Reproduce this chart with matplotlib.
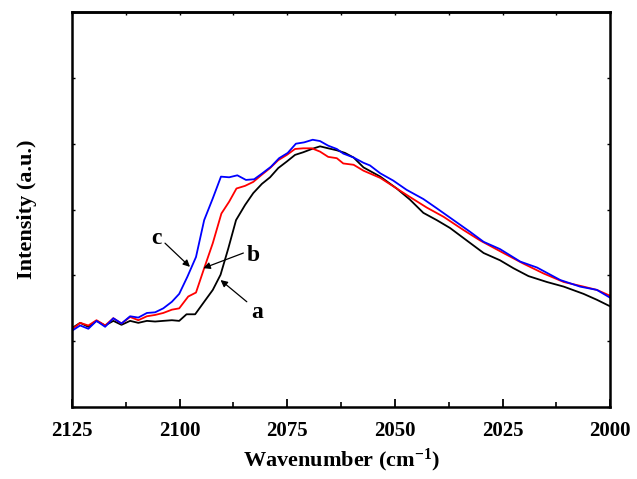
import numpy as np
import matplotlib.pyplot as plt

plt.rcParams['font.family'] = 'Liberation Serif'
plt.rcParams['font.weight'] = 'bold'
plt.rcParams['mathtext.fontset'] = 'custom'
plt.rcParams['mathtext.rm'] = 'Liberation Serif:bold'
plt.rcParams['mathtext.default'] = 'rm'

# sample a
wn_a = [2125, 2123.1, 2121.2, 2119.3, 2117.3, 2115.4, 2113.5, 2111.5, 2109.6, 2107.6,
        2105.7, 2103.8, 2101.8, 2100.1, 2098.4, 2096.4, 2094.3, 2092.3, 2090.5, 2088.7,
        2086.9, 2084.8, 2082.9, 2080.9, 2079.0, 2077.1, 2075.1, 2073.2, 2071.3, 2069.3,
        2067.4, 2065.5, 2063.5, 2061.6, 2059.6, 2057.3, 2053.4, 2049.6, 2046.5, 2043.4,
        2040.3, 2037.2, 2032.9, 2029.4, 2025.6, 2022.5, 2019.0, 2014.7, 2010.8, 2006.2,
        2003.1, 2000.0]
int_a = [1.20, 1.28, 1.22, 1.31, 1.24, 1.31, 1.25, 1.31, 1.28, 1.31,
         1.30, 1.31, 1.32, 1.31, 1.41, 1.41, 1.60, 1.78, 2.01, 2.41,
         2.84, 3.07, 3.25, 3.39, 3.49, 3.63, 3.73, 3.83, 3.87, 3.92,
         3.96, 3.93, 3.90, 3.86, 3.79, 3.64, 3.50, 3.32, 3.15, 2.95,
         2.84, 2.72, 2.51, 2.34, 2.23, 2.11, 1.99, 1.90, 1.83, 1.72,
         1.63, 1.53]

# sample b
wn_b = [2125, 2123.1, 2121.2, 2119.3, 2117.3, 2115.4, 2113.5, 2111.5, 2109.6, 2107.6,
        2105.7, 2103.8, 2101.8, 2100.1, 2098.0, 2096.2, 2094.3, 2092.3, 2090.3, 2088.5,
        2086.8, 2084.8, 2082.9, 2080.9, 2079.0, 2077.1, 2075.1, 2073.2, 2071.3, 2069.3,
        2067.4, 2065.5, 2063.5, 2062.0, 2059.6, 2057.3, 2053.4, 2049.6, 2046.5, 2042.6,
        2038.7, 2034.1, 2030.2, 2024.8, 2020.2, 2015.5, 2010.8, 2006.2, 2003.1, 2000.0]
int_b = [1.18, 1.28, 1.24, 1.32, 1.24, 1.35, 1.27, 1.37, 1.32, 1.38,
         1.40, 1.43, 1.48, 1.50, 1.68, 1.74, 2.11, 2.49, 2.94, 3.12,
         3.32, 3.36, 3.42, 3.53, 3.63, 3.75, 3.83, 3.92, 3.93, 3.93,
         3.88, 3.80, 3.78, 3.70, 3.68, 3.59, 3.48, 3.32, 3.19, 3.03,
         2.89, 2.69, 2.53, 2.34, 2.18, 2.03, 1.90, 1.83, 1.78, 1.69]

# sample c
wn_c = [2125, 2123.1, 2121.2, 2119.3, 2117.3, 2115.4, 2113.5, 2111.5, 2109.6, 2107.6,
        2105.7, 2103.8, 2101.8, 2100.1, 2098.2, 2096.2, 2094.3, 2092.3, 2090.4, 2088.5,
        2086.6, 2084.6, 2082.7, 2080.8, 2078.8, 2076.9, 2074.9, 2073.0, 2071.1, 2069.1,
        2067.4, 2065.5, 2063.5, 2062.0, 2059.6, 2057.3, 2055.8, 2053.4, 2050.4, 2047.3,
        2043.4, 2040.3, 2036.4, 2032.5, 2029.4, 2025.6, 2020.9, 2017.0, 2011.6, 2007.0,
        2003.1, 2000.0]
int_c = [1.16, 1.24, 1.19, 1.31, 1.22, 1.35, 1.27, 1.38, 1.36, 1.43,
         1.44, 1.50, 1.60, 1.72, 1.98, 2.28, 2.84, 3.17, 3.50, 3.49,
         3.52, 3.45, 3.46, 3.55, 3.65, 3.78, 3.86, 4.00, 4.02, 4.06,
         4.04, 3.97, 3.92, 3.85, 3.79, 3.71, 3.67, 3.55, 3.44, 3.30,
         3.16, 3.02, 2.84, 2.66, 2.51, 2.40, 2.21, 2.12, 1.93, 1.83,
         1.78, 1.66]

fig = plt.figure(figsize=(6.37, 4.79), dpi=100)
ax = fig.add_axes([0.113, 0.150, 0.845, 0.825])

ax.plot(wn_a, int_a, color='black', lw=1.3)
ax.plot(wn_b, int_b, color='red', lw=1.3)
ax.plot(wn_c, int_c, color='blue', lw=1.3)

# labels with arrows
arrow = dict(arrowstyle='-|>', color='black', lw=0.9, mutation_scale=10, shrinkA=0, shrinkB=0)
ax.annotate('', xy=(2097.6, 2.13), xytext=(2103.4, 2.49), arrowprops=arrow)
ax.annotate('', xy=(2094.5, 2.11), xytext=(2085.2, 2.34), arrowprops=arrow)
ax.annotate('', xy=(2090.5, 1.93), xytext=(2084.4, 1.60), arrowprops=arrow)
ax.text(2105.3, 2.56, 'c', fontsize=17, fontweight='bold', ha='center', va='center')
ax.text(2082.9, 2.31, 'b', fontsize=17, fontweight='bold', ha='center', va='center')
ax.text(2082.1, 1.43, 'a', fontsize=17, fontweight='bold', ha='center', va='center')

ax.set_xlim(2125, 2000)
ax.set_ylim(0, 6)
ax.set_xticks([2125, 2100, 2075, 2050, 2025, 2000])
ax.set_xticks(np.arange(2000, 2126, 12.5), minor=True)
ax.set_yticks(np.arange(0, 7, 1))
ax.set_yticklabels([])
ax.tick_params(axis='x', which='major', direction='in', length=6, width=1.3, labelsize=15, pad=10)
ax.tick_params(axis='x', which='minor', direction='in', length=3.5, width=1.2)
ax.tick_params(axis='y', direction='in', length=2.5, width=1, left=True, right=True)
for lab in ax.get_xticklabels():
    lab.set_fontweight('bold')

top = ax.secondary_xaxis('top')
top.set_xticks(np.arange(2000, 2126, 12.5))
top.set_xticklabels([])
top.tick_params(direction='in', length=2, width=1)
top.spines['top'].set_linewidth(1.8)

for s in ax.spines.values():
    s.set_linewidth(1.8)

ax.set_xlabel('Wavenumber (cm$^{\\mathregular{-1}}$)', fontsize=16, fontweight='bold', labelpad=4)
ax.set_ylabel('Intensity (a.u.)', fontsize=16, fontweight='bold', labelpad=22)

fig.savefig('out.png', dpi=100)
